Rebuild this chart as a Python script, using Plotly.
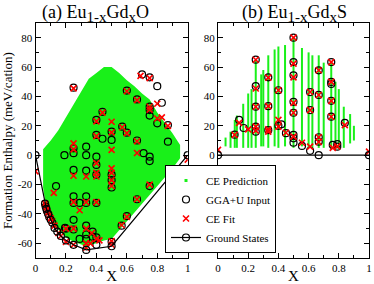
import plotly.graph_objects as go

FONT = "Liberation Serif"

# ---------------- Panel (a): Eu(1-x)Gd(x)O ----------------
# CE prediction cloud envelope (upper edge left->right, lower edge right->left)
a_up_x = [0.05, 0.1, 0.15, 0.2, 0.25, 0.3, 0.35, 0.4, 0.45, 0.5, 0.55, 0.6, 0.65, 0.7, 0.75, 0.8, 0.85, 0.9, 0.95]
a_up_y = [4, 10, 17, 26, 34, 44, 52, 56, 60, 60, 56, 51, 47, 42, 38, 29, 22, 15, 7]
a_lo_x = [0.95, 0.9, 0.8, 0.7, 0.6, 0.5, 0.45, 0.4, 0.333, 0.3, 0.25, 0.2, 0.15, 0.125, 0.1, 0.08, 0.0625, 0.05]
a_lo_y = [-2, -9, -21, -33, -45, -57, -58, -60, -62, -61, -59, -56, -51, -48, -43, -38, -31, -22]

# GGA+U inputs (x, y)
a_in_x = [0.25, 0.44, 0.40, 0.40, 0.44, 0.5, 0.5, 0.333, 0.25, 0.25, 0.19, 0.333, 0.40,
          0.70, 0.75, 0.80, 0.60, 0.667, 0.83, 0.75, 0.75, 0.75, 0.80, 0.87, 0.57, 0.60, 0.667, 0.87, 0.71, 0.75, 0.75,
          0.25, 0.333, 0.40, 0.40, 0.5, 0.5, 0.5,
          0.135, 0.25, 0.25, 0.29, 0.333, 0.333, 0.40, 0.25, 0.25, 0.194, 0.333, 0.333, 0.333, 0.29, 0.375, 0.375, 0.40, 0.40, 0.5,
          0.75, 0.667, 0.60, 0.566,
          0.0667, 0.075, 0.09, 0.111, 0.2]
a_in_y = [46, 29.5, 24, 13.8, 11.2, 16, 10.4, 5.8, 4.7, 1.4, 0, 0, -1,
          55, 53, 47, 44, 38, 35.7, 33, 30.7, 27, 21.7, 20.5, 19.4, 15.3, 10, 9.2, 1.4, -1, -4,
          -10, -10.5, -6.6, -13.3, -13.3, -22, -17,
          -21, -28, -32.5, -32.5, -28, -32.5, -32.5, -44, -50.6, -49.5, -48, -54, -57, -57, -52, -55.5, -56, -61, -59,
          -21, -30, -41.5, -48,
          -35, -38, -42, -46, -50]

# CE fit (x, y)
a_fit_x = [0.25, 0.44, 0.40, 0.40, 0.5, 0.5, 0.5, 0.25, 0.25,
           0.69, 0.75, 0.60, 0.667, 0.80, 0.75, 0.75, 0.83, 0.87, 0.57, 0.60, 0.667, 0.80, 0.667,
           0.0, 0.25, 0.333, 0.40, 0.40, 0.40, 0.5, 0.5, 0.5, 0.5, 0.12, 0.29, 0.25, 0.333, 0.40,
           0.25, 0.2, 0.333, 0.37, 0.40, 0.42, 0.333, 0.36, 0.5,
           0.0625, 0.07, 0.075, 0.08, 0.09, 0.1, 0.11, 0.125, 0.15, 0.167, 0.2, 0.25, 0.333, 0.5,
           0.75, 0.667, 0.60, 0.566, 1.0]
a_fit_y = [45.5, 29, 23, 13, 22.8, 15.5, 3.6, 8, 4,
           54, 52.5, 43.5, 37.5, 35, 33, 31, 25.7, 20, 19, 15, 9.5, 25, 1.5,
           -11, -14, -14.5, -12, -14.5, -5.4, -9, -12, -17, -21, -25.7, -37.5, -32, -32, -32,
           -50, -50, -50, -53, -57, -58, -60, -60, -58.5,
           -33, -35, -37, -39, -41, -43, -45, -48, -53, -55, -59, -61, -63, -61,
           -20, -30, -42, -47.5, -3]

# Ground states (convex hull)
a_gs_x = [0, 0.0625, 0.0714, 0.0833, 0.1, 0.125, 0.1429, 0.1667, 0.2, 0.25, 0.3333, 0.5, 1.0]
a_gs_y = [0, -33, -36.5, -40, -44, -49.5, -52, -55, -58, -61, -64.5, -62, 0]

# ---------------- Panel (b): Eu(1-x)Gd(x)S ----------------
# CE prediction columns: composition, lowest and highest predicted value
b_col_x = [0.05, 0.083, 0.111, 0.125, 0.167, 0.2, 0.222, 0.25, 0.286, 0.3, 0.333, 0.375, 0.4, 0.444,
           0.5, 0.556, 0.6, 0.625, 0.667, 0.7, 0.75, 0.778, 0.8, 0.833, 0.875, 0.9]
b_col_lo = [6, 5, 5, 5, 5, 5, 5, 5, 6, 6, 5, 6, 5, 6, 5, 6, 5, 5, 5, 5, 4, 4, 4, 5, 8, 10]
b_col_hi = [12, 16, 24, 27, 35, 42, 45, 65, 55, 58, 68, 72, 74, 75, 80, 73, 70, 68, 68, 63, 63, 50, 45, 33, 28, 20]

b_in_x = [0.5, 0.5, 0.5, 0.5, 0.5, 0.5, 0.5, 0.5,
          0.25, 0.25, 0.25, 0.25, 0.25, 0.14, 0.17, 0.11,
          0.333, 0.333, 0.333, 0.40, 0.40, 0.42, 0.45, 0.556,
          0.61, 0.61, 0.61, 0.667, 0.667, 0.667, 0.667,
          0.75, 0.75, 0.75, 0.75, 0.75, 0.76, 0.79, 0.79, 0.84]
b_in_y = [80, 63.4, 54.4, 36.3, 28.9, 13.8, 11.5, 8.5,
          65, 47, 33, 19.4, 16, 24, 18.5, 14,
          53, 33.4, 17, 44.2, 20, 21, 15, 6.3,
          43, 30.7, 3, 57.8, 41, 12.2, 9.2,
          63.4, 49.9, 48.5, 37, 26.2, 7, 7.6, 5.8, 22]

b_fit_x = [0.0, 0.5, 0.5, 0.5, 0.5, 0.5, 0.5,
           0.25, 0.25, 0.25, 0.25, 0.25, 0.14, 0.11, 0.2,
           0.333, 0.333, 0.333, 0.333, 0.40, 0.40, 0.40, 0.45, 0.556,
           0.61, 0.61, 0.61, 0.667, 0.667, 0.667, 0.667,
           0.75, 0.75, 0.75, 0.75, 0.76, 0.79, 0.84, 1.0]
b_fit_y = [3.6, 80, 62.3, 53, 35.6, 28.9, 12.6,
           65, 45.4, 33, 19.4, 16.7, 22, 13.8, 17.6,
           52.8, 33.4, 17.6, 16, 44.2, 24, 19.4, 15.3, 8.5,
           43, 30.7, 5.8, 57.8, 41, 12.2, 9,
           63.4, 49.9, 37, 26.2, 5, 6, 20.5, 2.4]

b_gs_x = [0, 0.667, 1.0]
b_gs_y = [0, 0, 0]

# ticks
y_tickvals = [-60, -40, -20, 0, 20, 40, 60, 80]
y_ticktext = ["-60", "-40", "-20", "0", "20", "40", "60", "80"]
y2_ticktext = ["", "", "", "0", "20", "40", "60", "80"]   # lower labels sit behind the legend
x_tickvals = [0, 0.2, 0.4, 0.6, 0.8, 1.0]
x_ticktext = ["0", "0.2", "0.4", "0.6", "0.8", "1"]

GREEN = "#19f019"
fig = go.Figure()

# legend-only entry for CE prediction
fig.add_trace(go.Scatter(x=[None], y=[None], mode="markers", name="CE Prediction",
                         marker=dict(symbol="square", size=3, color=GREEN)))

# panel a cloud
fig.add_trace(go.Scatter(x=a_up_x + a_lo_x, y=a_up_y + a_lo_y, mode="lines", fill="toself",
                         fillcolor=GREEN, line=dict(width=0, color=GREEN), showlegend=False,
                         hoverinfo="skip", xaxis="x", yaxis="y"))
# panel b columns
bx, by = [], []
for xv, lo, hi in zip(b_col_x, b_col_lo, b_col_hi):
    bx += [xv, xv, None]
    by += [lo, hi, None]
fig.add_trace(go.Scatter(x=bx, y=by, mode="lines", line=dict(width=2, color=GREEN),
                         showlegend=False, xaxis="x2", yaxis="y2"))

circ = dict(symbol="circle-open", size=7, color="black", line=dict(width=1.2, color="black"))
xm = dict(symbol="x-thin-open", size=6, color="#ff0000", line=dict(width=1.6, color="#ff0000"))

fig.add_trace(go.Scatter(x=a_in_x, y=a_in_y, mode="markers", marker=circ, name="GGA+U Input",
                         legendgroup="in", xaxis="x", yaxis="y"))
fig.add_trace(go.Scatter(x=b_in_x, y=b_in_y, mode="markers", marker=circ, showlegend=False,
                         legendgroup="in", xaxis="x2", yaxis="y2"))
fig.add_trace(go.Scatter(x=a_fit_x, y=a_fit_y, mode="markers", marker=xm, name="CE Fit",
                         legendgroup="fit", xaxis="x", yaxis="y"))
fig.add_trace(go.Scatter(x=b_fit_x, y=b_fit_y, mode="markers", marker=xm, showlegend=False,
                         legendgroup="fit", xaxis="x2", yaxis="y2"))
gsm = dict(symbol="circle-open", size=7, color="black", line=dict(width=1.2, color="black"))
fig.add_trace(go.Scatter(x=a_gs_x, y=a_gs_y, mode="lines+markers", marker=gsm,
                         line=dict(color="black", width=1.2), name="Ground States",
                         legendgroup="gs", xaxis="x", yaxis="y"))
fig.add_trace(go.Scatter(x=b_gs_x, y=b_gs_y, mode="lines+markers", marker=gsm,
                         line=dict(color="black", width=1.2), showlegend=False,
                         legendgroup="gs", xaxis="x2", yaxis="y2"))

W, H = 374, 284
tickfont = dict(family=FONT, size=11, color="black")
common_x = dict(range=[0, 1], tickvals=x_tickvals, ticktext=x_ticktext, ticks="inside", ticklen=5,
                tickwidth=1, tickcolor="black", mirror="allticks", showline=True, linecolor="black",
                linewidth=1, showgrid=False, zeroline=False, tickfont=tickfont, automargin=False,
                minor=dict(dtick=0.1, ticks="inside", ticklen=3, tickcolor="black", showgrid=False),
                title=dict(text="X", font=dict(family=FONT, size=15, color="black"), standoff=1))
common_y = dict(range=[-70, 90], tickvals=y_tickvals, ticks="inside", ticklen=5,
                tickwidth=1, tickcolor="black", mirror="allticks", showline=True, linecolor="black",
                linewidth=1, showgrid=False, zeroline=False, tickfont=tickfont, automargin=False,
                minor=dict(tickvals=[-70, -50, -30, -10, 10, 30, 50, 70, 90], ticks="inside", ticklen=3,
                           tickcolor="black", showgrid=False),
                domain=[26 / H, 261 / H])

SUB = '<sub><span style="font-size:15px">{}</span></sub>'
title_a = "(a) Eu" + SUB.format("1-x") + "Gd" + SUB.format("x") + "O"
title_b = "(b) Eu" + SUB.format("1-x") + "Gd" + SUB.format("x") + "S"

fig.update_layout(
    width=W, height=H, margin=dict(l=0, r=0, t=0, b=0),
    paper_bgcolor="white", plot_bgcolor="white",
    font=dict(family=FONT, color="black"),
    xaxis=dict(common_x, domain=[35.5 / W, 187.7 / W], anchor="y"),
    xaxis2=dict(common_x, domain=[218 / W, 369 / W], anchor="y2"),
    yaxis=dict(common_y, anchor="x", ticktext=y_ticktext,
               title=dict(text="Formation Enthalpy (meV/cation)",
                          font=dict(family=FONT, size=13, color="black"), standoff=2)),
    yaxis2=dict(common_y, anchor="x2", ticktext=y2_ticktext),
    showlegend=True,
    legend=dict(x=165 / W, y=31 / H, xanchor="left", yanchor="bottom",
                bgcolor="white", bordercolor="black", borderwidth=1,
                font=dict(family=FONT, size=11, color="black"),
                itemwidth=30, tracegroupgap=0),
    annotations=[
        dict(text=title_a, x=95 / W, y=1.0, xref="paper", yref="paper",
             xanchor="center", yanchor="top", showarrow=False,
             font=dict(family=FONT, size=18, color="black")),
        dict(text=title_b, x=294 / W, y=1.0, xref="paper", yref="paper",
             xanchor="center", yanchor="top", showarrow=False,
             font=dict(family=FONT, size=18, color="black")),
    ],
)

fig.write_html("out.html", config={"displayModeBar": False},
               post_script="document.body.style.margin='0px';")
